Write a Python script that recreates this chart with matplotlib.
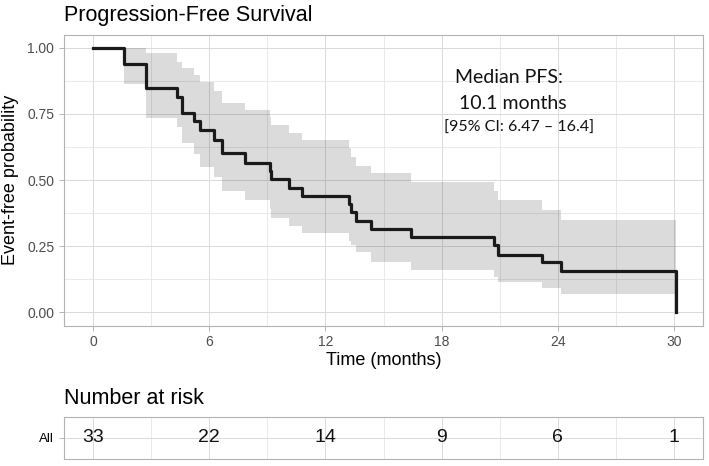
import numpy as np
import matplotlib
matplotlib.use("Agg")
import matplotlib.pyplot as plt
from matplotlib.ticker import MultipleLocator

plt.rcParams['font.family'] = ['Liberation Sans', 'DejaVu Sans']

# Kaplan-Meier steps
times = [0, 1.61, 2.75, 4.36, 4.58, 5.22, 5.53, 6.27, 6.68, 7.85, 9.13, 9.2,
         10.13, 10.8, 13.22, 13.34, 13.6, 14.34, 16.4, 20.73, 20.9, 23.2, 24.16, 30.08]
surv = [1.0, 0.938, 0.847, 0.815, 0.755, 0.723, 0.689, 0.65, 0.601, 0.566, 0.536, 0.503,
        0.472, 0.441, 0.41, 0.378, 0.347, 0.316, 0.285, 0.255, 0.218, 0.192, 0.157, 0.0]
# confidence band for each interval starting at times[1:-1]
upper = [1.0, 0.979, 0.947, 0.922, 0.897, 0.87, 0.835, 0.79, 0.765, 0.74, 0.708,
         0.677, 0.65, 0.62, 0.589, 0.555, 0.526, 0.494, 0.46, 0.425, 0.388, 0.35]
lower = [0.863, 0.736, 0.70, 0.64, 0.60, 0.55, 0.51, 0.46, 0.425, 0.39, 0.356,
         0.325, 0.30, 0.27, 0.255, 0.23, 0.189, 0.161, 0.135, 0.115, 0.092, 0.071]

risk_times = [0, 6, 12, 18, 24, 30]
risk_counts = [33, 22, 14, 9, 6, 1]

W, H = 709, 466
fig = plt.figure(figsize=(W / 100, H / 100), dpi=100)
fig.patch.set_facecolor('white')


def px_axes(l, t, r, b):
    return fig.add_axes([l / W, 1 - b / H, (r - l) / W, (b - t) / H])


def style(ax):
    for s in ax.spines.values():
        s.set_color('#b3b3b3')
        s.set_linewidth(0.8)
    ax.grid(which='major', color='#dadada', linewidth=0.7)
    ax.grid(which='minor', color='#e4e4e4', linewidth=0.55)
    ax.set_axisbelow(True)
    ax.tick_params(which='major', color='#b3b3b3', length=3.5, width=0.7,
                   labelcolor='#4d4d4d', labelsize=10)
    ax.tick_params(which='minor', length=0)


ax = px_axes(64, 34.5, 703, 325.7)
style(ax)
ax.set_xlim(-1.5, 31.5)
ax.set_ylim(-0.05, 1.05)
ax.xaxis.set_major_locator(MultipleLocator(6))
ax.xaxis.set_minor_locator(MultipleLocator(3))
ax.yaxis.set_major_locator(MultipleLocator(0.25))
ax.yaxis.set_minor_locator(MultipleLocator(0.125))
ax.yaxis.set_major_formatter(lambda v, p: f"{v:.2f}")

band_t = times[1:]
ax.fill_between(band_t, upper + [upper[-1]], lower + [lower[-1]], step='post',
                color='black', alpha=0.14, linewidth=0)
ax.step(times, surv, where='post', color='#1a1a1a', linewidth=2.3)

ax.set_xlabel('Time (months)', fontsize=13, labelpad=2)
ax.set_ylabel('Event-free probability', fontsize=13, labelpad=6)
ax.set_title('Progression-Free Survival', fontsize=15.5, loc='left', pad=10)

ann = dict(family=['Lato', 'DejaVu Sans'], ha='center', va='center', color='#111111')
ax.text(21.5, 0.886, 'Median PFS:', fontsize=14, **ann)
ax.text(21.7, 0.791, '10.1 months', fontsize=14, **ann)
ax.text(22.0, 0.697, '[95% CI: 6.47 – 16.4]', fontsize=11.5, **ann)

# risk table
rt = px_axes(64, 416.7, 703, 459.3)
style(rt)
rt.set_xlim(-1.5, 31.5)
rt.set_ylim(0.4, 1.6)
rt.xaxis.set_major_locator(MultipleLocator(6))
rt.xaxis.set_minor_locator(MultipleLocator(3))
rt.set_yticks([1])
rt.set_yticklabels(['All'])
rt.tick_params(axis='x', length=0, labelbottom=False)
rt.tick_params(axis='y', labelcolor='black', labelsize=9.5)
for t, n in zip(risk_times, risk_counts):
    rt.text(t, 1, str(n), ha='center', va='center', fontsize=14, color='#111111')
rt.set_title('Number at risk', fontsize=15.5, loc='left', pad=9)

fig.savefig('out.png', dpi=100, facecolor='white')
